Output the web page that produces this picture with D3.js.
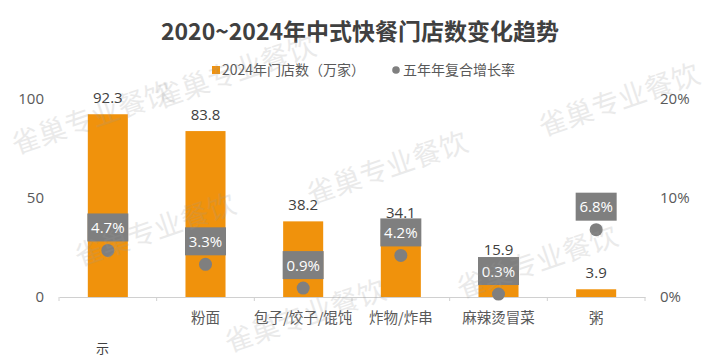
<!DOCTYPE html>
<html>
<head>
<meta charset="utf-8">
<script src="https://cdn.jsdelivr.net/npm/d3@7"></script>
<style>
  body { margin: 0; background: #fff; }
  svg { font-family: "Noto Sans CJK SC", "Open Sans", sans-serif; }
</style>
</head>
<body>
<div id="chart"></div>
<script>
// data
const categories = ["", "粉面", "包子/饺子/馄饨", "炸物/炸串", "麻辣烫冒菜", "粥"];
const stores = [92.3, 83.8, 38.2, 34.1, 15.9, 3.9];      // 2024年门店数（万家）
const cagr = [4.7, 3.3, 0.9, 4.2, 0.3, 6.8];              // 五年年复合增长率 %
const leftTicks = [0, 50, 100];
const rightTicks = [0, 10, 20];
const watermarks = [[92, 118], [235, 72], [155, 230], [387, 168], [619, 100], [537, 262], [305, 316]];

const W = 717, H = 360;
const margin = {top: 99, right: 72, bottom: 63, left: 59};
const width = W - margin.left - margin.right;
const height = H - margin.top - margin.bottom;

const svg = d3.select("#chart").append("svg")
  .attr("width", W)
  .attr("height", H);

const g = svg.append("g")
  .attr("transform", "translate(" + margin.left + "," + margin.top + ")");

// scales
const x = d3.scaleBand().domain(categories.map((d, i) => i)).range([0, width]).paddingInner(0.59).paddingOuter(0.295);
const xb = d3.scaleBand().domain(categories.map((d, i) => i)).range([0, width]);
const y = d3.scaleLinear().domain([0, 100]).range([height, 0]);
const y2 = d3.scaleLinear().domain([0, 20]).range([height, 0]);

// title
svg.append("text")
  .attr("x", 360).attr("y", 40)
  .attr("text-anchor", "middle")
  .attr("font-size", 23).attr("font-weight", "bold")
  .attr("fill", "#404040")
  .text("2020~2024年中式快餐门店数变化趋势");

// legend
const lg = svg.append("g").attr("font-size", 14).attr("fill", "#595959");
lg.append("rect").attr("x", 212).attr("y", 66).attr("width", 8).attr("height", 8).attr("fill", "#F0920C");
lg.append("text").attr("x", 222).attr("y", 75).text("2024年门店数（万家）");
lg.append("circle").attr("cx", 396).attr("cy", 70).attr("r", 3.8).attr("fill", "#7f7f7f");
lg.append("text").attr("x", 403).attr("y", 75).text("五年年复合增长率");

// bars
g.selectAll(".bar")
  .data(stores)
  .enter().append("rect")
  .attr("class", "bar")
  .attr("x", (d, i) => x(i))
  .attr("width", x.bandwidth())
  .attr("y", d => y(d))
  .attr("height", d => height - y(d))
  .attr("fill", "#F0920C");

// bar value labels
g.selectAll(".val")
  .data(stores)
  .enter().append("text")
  .attr("x", (d, i) => x(i) + x.bandwidth() / 2)
  .attr("y", d => y(d) - 11)
  .attr("text-anchor", "middle")
  .attr("font-family", "Open Sans")
  .attr("font-size", 15)
  .attr("fill", "#404040")
  .text(d => d.toFixed(1));

// x axis line + ticks
const xAxis = g.append("g")
  .attr("transform", "translate(0," + height + ")")
  .call(d3.axisBottom(xb).tickSize(0).tickFormat(i => categories[i]));
xAxis.select(".domain").attr("stroke", "#d0d0d0");
xAxis.selectAll("text")
  .attr("font-family", "Noto Sans CJK SC")
  .attr("font-size", 14.5)
  .attr("fill", "#595959")
  .attr("dy", "1.6em");
xAxis.selectAll(".sep")
  .data(d3.range(categories.length + 1))
  .enter().append("line")
  .attr("x1", i => i * xb.step()).attr("x2", i => i * xb.step())
  .attr("y1", 0).attr("y2", 4)
  .attr("stroke", "#d0d0d0");

// left axis
const yAxis = g.append("g").call(d3.axisLeft(y).tickValues(leftTicks).tickSize(0).tickPadding(15));
yAxis.select(".domain").remove();
yAxis.selectAll("text").attr("font-family", "Open Sans").attr("font-size", 15).attr("fill", "#595959");

// right axis
const yAxis2 = g.append("g")
  .attr("transform", "translate(" + width + ",0)")
  .call(d3.axisRight(y2).tickValues(rightTicks).tickSize(0).tickPadding(15).tickFormat(d => d + "%"));
yAxis2.select(".domain").remove();
yAxis2.selectAll("text").attr("font-family", "Open Sans").attr("font-size", 15).attr("fill", "#595959");

// growth dots
g.selectAll(".dot")
  .data(cagr)
  .enter().append("circle")
  .attr("cx", (d, i) => x(i) + x.bandwidth() / 2)
  .attr("cy", d => y2(d))
  .attr("r", 6.5)
  .attr("fill", "#7f7f7f");

// growth label boxes
const lb = g.selectAll(".lab")
  .data(cagr)
  .enter().append("g")
  .attr("transform", (d, i) => "translate(" + (x(i) + x.bandwidth() / 2) + "," + (y2(d) - 23) + ")");
lb.append("rect")
  .attr("x", -20.5).attr("y", -14)
  .attr("width", 41).attr("height", 28)
  .attr("fill", "#7f7f7f");
lb.append("text")
  .attr("y", 5.5)
  .attr("text-anchor", "middle")
  .attr("font-family", "Open Sans")
  .attr("font-size", 15)
  .attr("fill", "#fff")
  .text(d => d.toFixed(1) + "%");

// footnote fragment
svg.append("text").attr("x", 96).attr("y", 353).attr("font-size", 13).attr("fill", "#404040").text("示");

// watermarks
svg.append("g")
  .selectAll("text")
  .data(watermarks)
  .enter().append("text")
  .attr("transform", d => "translate(" + d[0] + "," + d[1] + ") rotate(-19)")
  .attr("text-anchor", "middle")
  .attr("dy", "0.35em")
  .attr("font-size", 28)
  .attr("fill", "#9a9a9a")
  .attr("opacity", 0.2)
  .text("雀巢专业餐饮");
</script>
</body>
</html>
